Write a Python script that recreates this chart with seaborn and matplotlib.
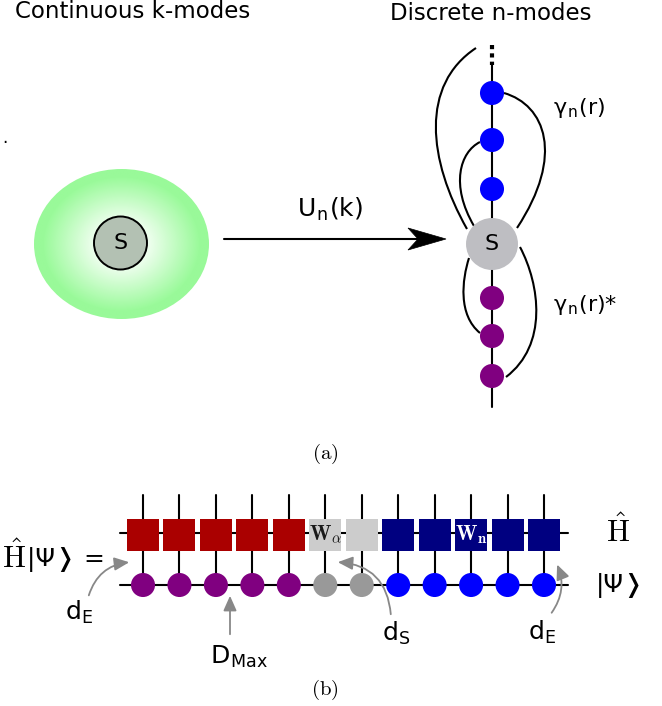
import numpy as np
import pandas as pd
import matplotlib
matplotlib.use("Agg")
import matplotlib.pyplot as plt
import seaborn as sns
from matplotlib.patches import Ellipse, Circle, Rectangle, Polygon, FancyArrowPatch, PathPatch
from matplotlib.path import Path

# ---------------------------------------------------------------------------
# data
# ---------------------------------------------------------------------------
chain_kind = ["blue", "blue", "blue", "S", "purple", "purple", "purple"]
chain_y = [93, 140, 189, 244, 298, 336, 376]

site_kind = ["env_l"] * 5 + ["sys"] * 2 + ["env_r"] * 5
op_labels = ["", "", "", "", "", r"$\mathbf{W_\alpha}$", "", "", "", r"$\mathbf{W_n}$", "", ""]

node_colors = {"blue": "#0000ff", "purple": "#800080", "S": "#bebec2",
               "env_l": "#800080", "sys": "#999999", "env_r": "#0000ff"}
op_colors = {"env_l": "#aa0000", "sys": "#cccccc", "env_r": "#000080"}

sns.set_theme(style="white")
plt.rcParams["font.family"] = ["DejaVu Sans"]
plt.rcParams["mathtext.fontset"] = "cm"
plt.rcParams["text.color"] = "black"

fig = plt.figure(figsize=(6.62, 7.06), dpi=100)
ax = fig.add_axes([0, 0, 1, 1])
ax.set_xlim(0, 662)
ax.set_ylim(706, 0)
ax.axis("off")

# ---------------------------------------------------------------------------
# (a) continuous modes
# ---------------------------------------------------------------------------
ax.text(15, 12, "Continuous k-modes", fontsize=16.5, ha="left", va="center")
ax.text(491, 14, "Discrete n-modes", fontsize=16.5, ha="center", va="center")
ax.text(5, 138, ".", fontsize=12, ha="center", va="center")

cx, cy, ew, eh = 121.5, 244, 175, 150
xs = np.linspace(cx - ew / 2, cx + ew / 2, 300)
ys = np.linspace(cy - eh / 2, cy + eh / 2, 260)
X, Y = np.meshgrid(xs, ys)
r = np.sqrt(((X - cx) / (ew / 2)) ** 2 + ((Y - cy) / (eh / 2)) ** 2)
t = np.clip((r - 0.25) / 0.65, 0, 1)[..., None]
inner = np.array([0.97, 1.0, 0.97])
outer = np.array([0.60, 0.98, 0.60])
img = inner * (1 - t) + outer * t
im = ax.imshow(img, extent=(cx - ew / 2, cx + ew / 2, cy + eh / 2, cy - eh / 2),
               origin="upper", aspect="auto", zorder=1)
clip = Ellipse((cx, cy), ew, eh, transform=ax.transData, facecolor="none", edgecolor="none")
ax.add_patch(clip)
im.set_clip_path(clip)
ax.set_xlim(0, 662)
ax.set_ylim(706, 0)

ax.add_patch(Circle((cx - 1, 243), 26.5, facecolor="#b3c1b3", edgecolor="black", lw=1.4, zorder=3))
ax.text(cx - 1, 243, "S", fontsize=16, ha="center", va="center", zorder=4)

# mapping arrow
ax.plot([224, 420], [239, 239], color="black", lw=1.5, zorder=2)
ax.add_patch(Polygon([(446, 239), (408, 228), (418, 239), (408, 250)],
                     closed=True, facecolor="black", edgecolor="black", lw=0.5, zorder=3))
ax.text(330, 209, r"U$_\mathregular{n}$(k)", fontsize=18, ha="center", va="center")

# chain
chain_x = 492
ax.plot([chain_x, chain_x], [65, 407], color="black", lw=1.5, zorder=2)
ax.plot([chain_x, chain_x], [45, 65], color="black", lw=3, ls=(0, (1, 1)), zorder=2)

chain_df = pd.DataFrame({"x": [chain_x] * len(chain_y), "y": chain_y, "kind": chain_kind,
                         "size": [1400 if k == "S" else 300 for k in chain_kind]})
sns.scatterplot(data=chain_df, x="x", y="y", hue="kind", palette=node_colors, size="size",
                sizes=(300, 1400), linewidth=0, legend=False, ax=ax, zorder=4)
ax.text(chain_x, 244, "S", fontsize=16, ha="center", va="center", zorder=5)

curves = [
    [(476, 48), (420, 85), (428, 160), (467, 229)],
    [(480, 142), (460, 152), (450, 185), (474, 226)],
    [(504, 93), (545, 105), (565, 155), (517, 228)],
    [(469, 258), (462, 280), (458, 315), (480, 333)],
    [(520, 247), (540, 285), (548, 345), (506, 377)],
]
for pts in curves:
    path = Path(pts, [Path.MOVETO, Path.CURVE4, Path.CURVE4, Path.CURVE4])
    ax.add_patch(PathPatch(path, facecolor="none", edgecolor="black", lw=1.5, zorder=3))

ax.text(553, 108, r"γ$_\mathregular{n}$(r)", fontsize=16, ha="left", va="center")
ax.text(553, 305, r"γ$_\mathregular{n}$(r)*", fontsize=16, ha="left", va="center")
ax.text(325, 454, r"$\mathrm{(a)}$", fontsize=15, ha="center", va="center")

# ---------------------------------------------------------------------------
# (b) tensor network
# ---------------------------------------------------------------------------
site_x = np.linspace(143, 544, len(site_kind))
op_y, mps_y, top_y, sq = 535, 585, 495, 32

ax.plot([120, 568], [op_y - 2, op_y - 2], color="black", lw=1.5, zorder=2)
ax.plot([120, 568], [mps_y, mps_y], color="black", lw=1.5, zorder=2)
for x, kind, lab in zip(site_x, site_kind, op_labels):
    ax.plot([x, x], [top_y, mps_y], color="black", lw=1.5, zorder=2)
    ax.add_patch(Rectangle((x - sq / 2, op_y - sq / 2), sq, sq, facecolor=op_colors[kind],
                           edgecolor="none", zorder=3))
    if lab:
        ax.text(x, op_y, lab, fontsize=15, ha="center", va="center", zorder=4,
                color="white" if kind == "env_r" else "#1a1a1a")

mps_df = pd.DataFrame({"x": site_x, "y": [mps_y] * len(site_x), "kind": site_kind})
sns.scatterplot(data=mps_df, x="x", y="y", hue="kind", palette=node_colors, s=300,
                linewidth=0, legend=False, ax=ax, zorder=4)

ax.text(618, 531, r"$\hat{\mathrm{H}}$", fontsize=22, ha="center", va="center")
ax.text(620, 585, "|Ψ❭", fontsize=18, ha="center", va="center")
ax.text(2, 557, r"$\hat{\mathrm{H}}$", fontsize=22, ha="left", va="center")
ax.text(27, 560, "|Ψ❭ =", fontsize=18, ha="left", va="center")

ax.text(65, 612, r"d$_\mathregular{E}$", fontsize=18, ha="left", va="center")
ax.text(210, 657, r"D$_\mathregular{Max}$", fontsize=18, ha="left", va="center")
ax.text(382, 633, r"d$_\mathregular{S}$", fontsize=18, ha="left", va="center")
ax.text(528, 632, r"d$_\mathregular{E}$", fontsize=18, ha="left", va="center")

arrow_kw = dict(arrowstyle="-|>,head_length=9,head_width=4", color="#888888", lw=1.3,
                mutation_scale=1, zorder=5)
ax.add_patch(FancyArrowPatch((88, 598), (132, 562), connectionstyle="arc3,rad=-0.35", **arrow_kw))
ax.add_patch(FancyArrowPatch((230, 637), (230, 593), **arrow_kw))
ax.add_patch(FancyArrowPatch((391, 617), (335, 562), connectionstyle="arc3,rad=0.45", **arrow_kw))
ax.add_patch(FancyArrowPatch((550, 615), (556, 562), connectionstyle="arc3,rad=0.3", **arrow_kw))

ax.text(325, 690, r"$\mathrm{(b)}$", fontsize=15, ha="center", va="center")

fig.savefig("out.png", dpi=100)
